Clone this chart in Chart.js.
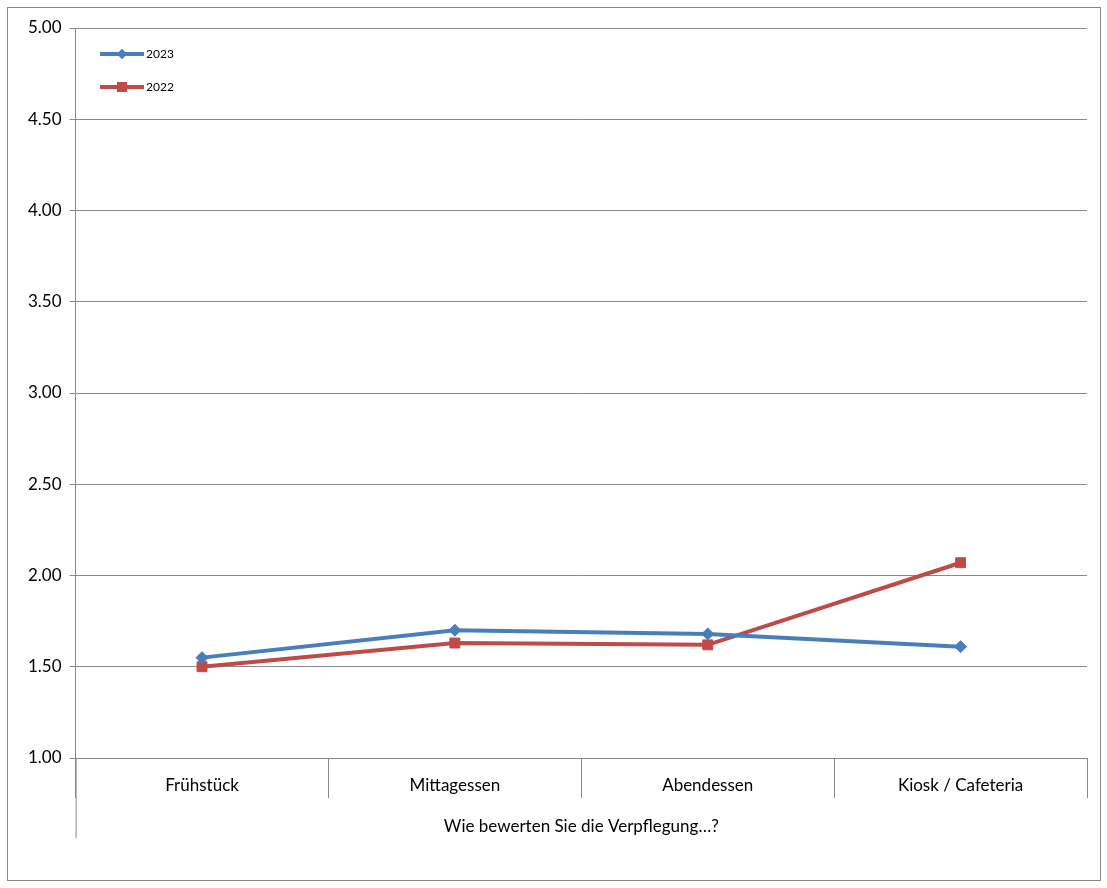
<!DOCTYPE html>
<html>
<head>
<meta charset="utf-8">
<script src="https://cdn.jsdelivr.net/npm/chart.js@4"></script>
<style>
  body { margin: 0; background: #fff; font-family: Lato, "Liberation Sans", sans-serif; }
  #frame { position: absolute; left: 7px; top: 7px; width: 1092px; height: 872px; border: 1px solid #888; }
  #wrap { position: absolute; left: 0; top: 0; width: 1107px; height: 888px; }
  .leg { position: absolute; left: 100px; font-size: 12px; color: #000; display: flex; align-items: center; }
  .leg .ln { position: relative; width: 44px; height: 4px; margin-right: 2px; }
  .leg .mk { position: absolute; left: 17px; top: -3px; width: 10px; height: 10px; }
</style>
</head>
<body>
<div id="frame"></div>
<div id="wrap"><canvas id="chart" width="1107" height="888"></canvas></div>
<div class="leg" style="top:46px"><span class="ln" style="background:#4a7ebb"><span class="mk" style="background:#4a7ebb;transform:rotate(45deg) scale(0.75)"></span></span>2023</div>
<div class="leg" style="top:79px"><span class="ln" style="background:#be4b48"><span class="mk" style="background:#be4b48"></span></span>2022</div>
<script>
const categories = ['Frühstück', 'Mittagessen', 'Abendessen', 'Kiosk / Cafeteria'];
const values2023 = [1.55, 1.70, 1.68, 1.61];
const values2022 = [1.50, 1.63, 1.62, 2.07];
const axisTitle = 'Wie bewerten Sie die Verpflegung…?';
const fontFamily = 'Lato, "Liberation Sans", sans-serif';

// category names, group label and the long outer separator line
const groupAxis = {
  id: 'groupAxis',
  afterDraw(c) {
    const a = c.chartArea, ctx = c.ctx, x = c.scales.x;
    ctx.save();
    ctx.strokeStyle = '#888';
    ctx.lineWidth = 1;
    ctx.beginPath();
    ctx.moveTo(a.left + 0.5, a.bottom);
    ctx.lineTo(a.left + 0.5, a.bottom + 80);
    ctx.stroke();
    ctx.fillStyle = '#000';
    ctx.font = '17px ' + fontFamily;
    ctx.textAlign = 'center';
    ctx.textBaseline = 'middle';
    categories.forEach((name, i) => ctx.fillText(name, x.getPixelForValue(i), a.bottom + 28));
    ctx.fillText(axisTitle, (a.left + a.right) / 2, a.bottom + 69);
    ctx.restore();
  }
};

Chart.defaults.font.family = fontFamily;
const ctx = document.getElementById('chart').getContext('2d');
new Chart(ctx, {
  type: 'line',
  data: {
    labels: categories,
    datasets: [
      {
        label: '2023', data: values2023, borderColor: '#4a7ebb', backgroundColor: '#4a7ebb',
        borderWidth: 4, pointStyle: 'rectRot', pointRadius: 6, pointBorderWidth: 1, tension: 0
      },
      {
        label: '2022', data: values2022, borderColor: '#be4b48', backgroundColor: '#be4b48',
        borderWidth: 4, pointStyle: 'rect', pointRadius: 7, pointBorderWidth: 1, tension: 0
      }
    ]
  },
  options: {
    responsive: false,
    animation: false,
    layout: { padding: { left: 20, right: 20, top: 28, bottom: 90 } },
    plugins: { legend: { display: false }, tooltip: { enabled: false } },
    scales: {
      x: {
        offset: true,
        grid: { offset: true, drawOnChartArea: false, tickLength: 40, color: '#888' },
        border: { color: '#888' },
        ticks: { display: false }
      },
      y: {
        min: 1, max: 5,
        ticks: { stepSize: 0.5, color: '#000', font: { size: 17 }, padding: 8, callback: v => v.toFixed(2) },
        grid: { color: '#888', tickLength: 6 },
        border: { color: '#888' }
      }
    }
  },
  plugins: [groupAxis]
});
</script>
</body>
</html>
